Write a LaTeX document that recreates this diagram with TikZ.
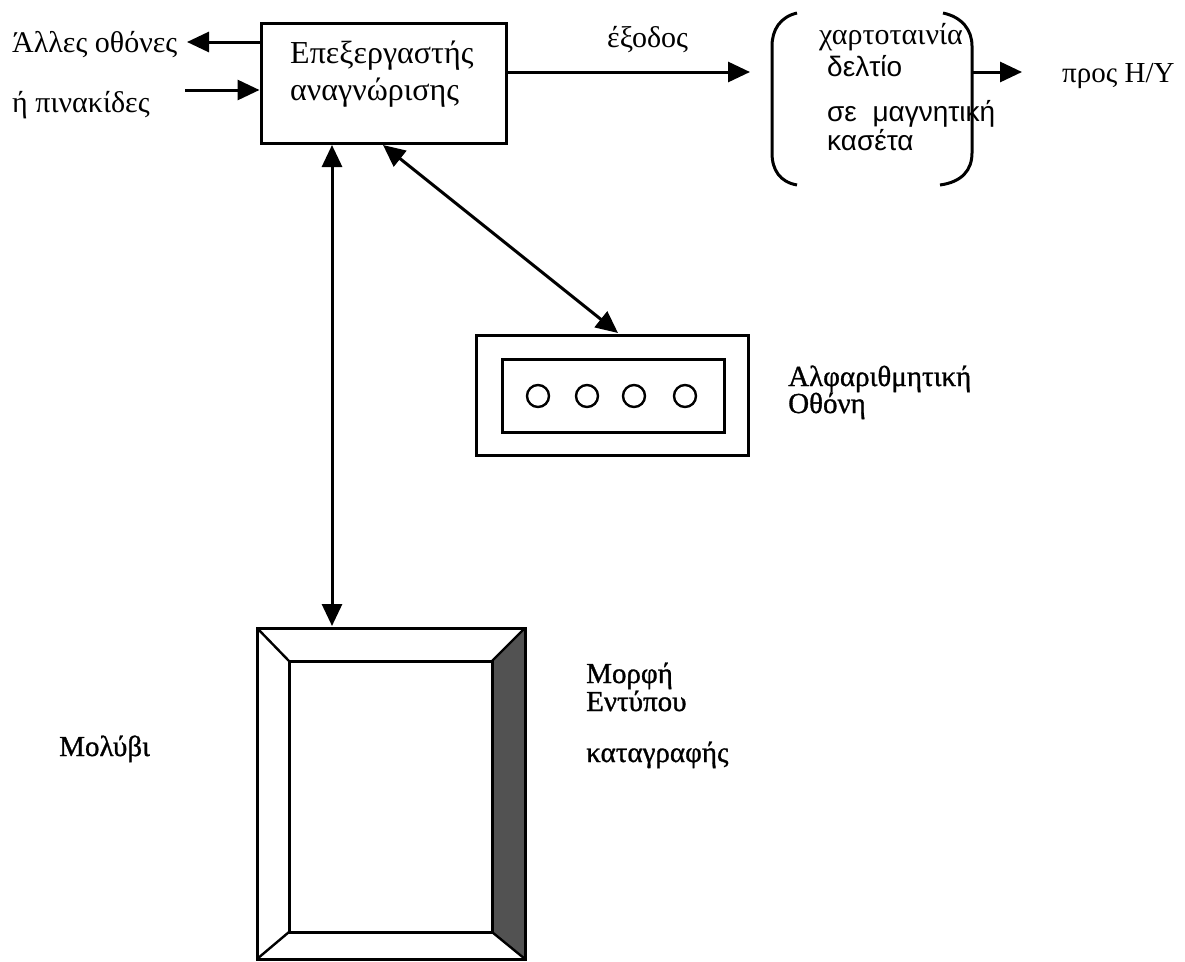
\documentclass[tikz,border=0pt]{standalone}
\usepackage{fontspec}
\setmainfont{Liberation Serif}
\newfontfamily\grsans{Liberation Sans}
\newfontfamily\grheavy{Liberation Serif}[FakeBold=1]
\usetikzlibrary{arrows.meta}
\tikzset{
  ln/.style={line width=3pt},
  arr/.style={ln,-{Triangle[length=22pt,width=20pt]}},
  darr/.style={ln,{Triangle[length=22pt,width=20pt]}-{Triangle[length=22pt,width=20pt]}},
  lbl/.style={anchor=base west,inner sep=0pt,font=\fontsize{30}{36}\selectfont},
  blbl/.style={anchor=base west,inner sep=0pt,font=\fontsize{32}{38}\selectfont},
  slbl/.style={anchor=base west,inner sep=0pt,font=\grsans\fontsize{28}{33}\selectfont},
  hlbl/.style={anchor=base west,inner sep=0pt,font=\grheavy\fontsize{29}{35}\selectfont},
  procbox/.style={draw,ln,minimum width=245pt,minimum height=120pt,inner sep=0pt},
  screenbox/.style={draw,ln,inner sep=0pt},
  lamp/.style={draw,line width=2.4pt,circle,minimum size=22pt,inner sep=0pt}
}
\begin{document}
\begin{tikzpicture}[x=1pt,y=-1pt]
\useasboundingbox (0,0) rectangle (1185,961);

% processor box
\node[procbox] (P) at (383.5,83) {};
\node[blbl] (p1) at (290,63) {Επεξεργαστής};
\node[blbl] (p2) at (290,100) {αναγνώρισης};

% left side
\node[lbl] (other) at (12,52) {Άλλες οθόνες};
\node[lbl] (signs) at (12,112) {ή πινακίδες};
\coordinate (ao) at (187,42);
\coordinate (ai) at (185,90);
\draw[arr] (P.west |- ao) -- (ao);
\draw[arr] (ai) -- (P.west |- ai);

% output
\node[lbl] (exodos) at (607,47) {έξοδος};
\coordinate (outtip) at (750,72);
\draw[arr] (P.east |- outtip) -- (outtip);

% parenthesised media group
\draw[ln] (797,13) .. controls (780,17) and (772,30) .. (772,46) -- (772,153) .. controls (772,170) and (780,182) .. (797,185);
\draw[ln] (943,13) .. controls (962,17) and (972,30) .. (972,46) -- (972,153) .. controls (972,170) and (962,182) .. (940,185);
\node[lbl] (m1) at (819,44) {χαρτοταινία};
\node[slbl] (m2) at (827,76) {δελτίο};
\node[slbl] (m3) at (827,121) {σε\ \ μαγνητική};
\node[slbl] (m4) at (827,150) {κασέτα};
\coordinate (mediaR) at (973,72);
\coordinate (pctip) at (1022,72);
\draw[arr] (mediaR) -- (pctip);
\node[lbl,font=\fontsize{29}{34}\selectfont] (pc) at (1062,82) {προς Η/Υ};

% alphanumeric screen
\node[screenbox,minimum width=272pt,minimum height=120pt] (S) at (612,395) {};
\node[screenbox,minimum width=222pt,minimum height=73pt] (Si) at (613,395.5) {};
\node[lamp] (c1) at (538,396) {};
\node[lamp] (c2) at (587,396) {};
\node[lamp] (c3) at (634,396) {};
\node[lamp] (c4) at (685,396) {};
\node[hlbl] (s1) at (788,386) {Αλφαριθμητική};
\node[hlbl] (s2) at (788,413) {Οθόνη};
\coordinate (dA) at (383,145);
\coordinate (dB) at (618,333);
\draw[darr] (dA) -- (dB);

% form frame
\coordinate (oTL) at (257,628);
\coordinate (oTR) at (525,628);
\coordinate (oBR) at (525,959);
\coordinate (oBL) at (257,959);
\coordinate (iTL) at (289,661);
\coordinate (iTR) at (492,661);
\coordinate (iBR) at (492,932);
\coordinate (iBL) at (289,932);
\fill[black!68] (oTR) -- (oBR) -- (iBR) -- (iTR) -- cycle;
\draw[ln] (oTL) rectangle (oBR);
\draw[ln] (iTL) rectangle (iBR);
\draw[line width=2.4pt] (oTL) -- (iTL) (oTR) -- (iTR) (oBR) -- (iBR) (oBL) -- (iBL);
\coordinate (vA) at (332,145);
\coordinate (vB) at (332,626);
\draw[darr] (vA) -- (vB);

\node[hlbl] (f1) at (586,683) {Μορφή};
\node[hlbl] (f2) at (586,711) {Εντύπου};
\node[hlbl] (f3) at (586,762) {καταγραφής};
\node[hlbl] (pen) at (59,756) {Μολύβι};
\end{tikzpicture}
\end{document}
